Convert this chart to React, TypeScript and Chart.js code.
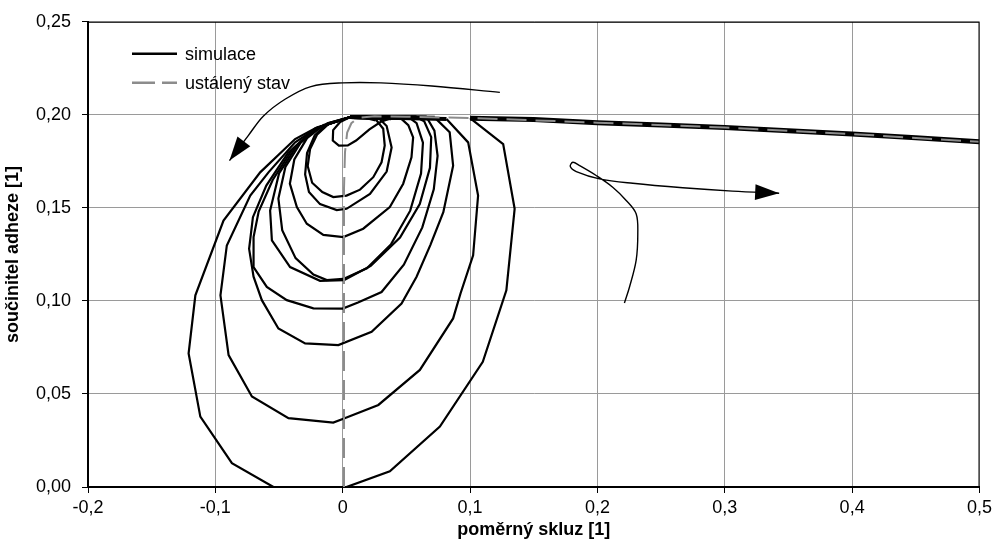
import React, { useEffect, useRef } from "react";
import { Chart, registerables } from "chart.js";

Chart.register(...registerables);

type P = [number, number];

const xTicks = [-0.2, -0.1, 0, 0.1, 0.2, 0.3, 0.4, 0.5];
const yTicks = [0, 0.05, 0.1, 0.15, 0.2, 0.25];

const seriesLabels = ["simulace", "ustálený stav"];
const xTitle = "poměrný skluz [1]";
const yTitle = "součinitel adheze [1]";

// simulation: growing loops around the adhesion maximum
const loop1: P[] = [
  [0.006, 0.1988], [-0.002, 0.1962], [-0.0075, 0.1918], [-0.0078, 0.1862], [-0.003, 0.1835],
  [0.004, 0.1836], [0.0105, 0.1862], [0.021, 0.1922], [0.03, 0.1963], [0.038, 0.1982],
];
const loop2: P[] = [
  [0.006, 0.1988], [-0.01, 0.1958], [-0.02, 0.1895], [-0.0256, 0.1817], [-0.0275, 0.1725],
  [-0.024, 0.1635], [-0.016, 0.1585], [-0.0074, 0.1558], [0.003, 0.1566], [0.0136, 0.1598],
  [0.024, 0.1665], [0.0305, 0.1745], [0.033, 0.1835], [0.0318, 0.1925], [0.026, 0.1975], [0.018, 0.1988],
];
const loop3: P[] = [
  [0.006, 0.1988], [-0.012, 0.1955], [-0.022, 0.189], [-0.028, 0.1795], [-0.0295, 0.168],
  [-0.0265, 0.1585], [-0.0178, 0.152], [-0.0047, 0.1488], [0.003, 0.1495], [0.0214, 0.1575],
  [0.0345, 0.1695], [0.0384, 0.1825], [0.0345, 0.194], [0.028, 0.1984],
];
const loop4: P[] = [
  [0.006, 0.1988], [-0.015, 0.1945], [-0.028, 0.1875], [-0.038, 0.176], [-0.0415, 0.163],
  [-0.036, 0.1504], [-0.0282, 0.1415], [-0.0152, 0.1355], [0.0005, 0.1343], [0.0161, 0.1388],
  [0.037, 0.1504], [0.0475, 0.163], [0.054, 0.1772], [0.0553, 0.1879], [0.0515, 0.1945], [0.045, 0.1985],
];
const loop5: P[] = [
  [0.006, 0.1988], [-0.018, 0.1935], [-0.033, 0.185], [-0.045, 0.172], [-0.0505, 0.155],
  [-0.0475, 0.138], [-0.037, 0.123], [-0.023, 0.1142], [-0.0125, 0.1112], [0.0005, 0.1118],
  [0.019, 0.1175], [0.038, 0.1305], [0.053, 0.1485], [0.0615, 0.1685], [0.063, 0.185],
  [0.058, 0.1955], [0.052, 0.1986],
];
const loop6: P[] = [
  [0.006, 0.1988], [-0.02, 0.193], [-0.036, 0.1835], [-0.05, 0.1685], [-0.057, 0.1486],
  [-0.0556, 0.1325], [-0.0413, 0.1182], [-0.0178, 0.1108], [0.001, 0.1112], [0.022, 0.1188],
  [0.045, 0.134], [0.0605, 0.152], [0.0685, 0.1715], [0.0695, 0.188], [0.064, 0.1965], [0.058, 0.1987],
];
const loop7: P[] = [
  [0.006, 0.1988], [-0.021, 0.1928], [-0.04, 0.181], [-0.055, 0.165], [-0.066, 0.148],
  [-0.07, 0.1343], [-0.07, 0.1182], [-0.0596, 0.1075], [-0.0439, 0.1004], [-0.023, 0.096],
  [0.0, 0.0959], [0.012, 0.0992], [0.0305, 0.1048], [0.048, 0.1195], [0.0625, 0.1395],
  [0.0715, 0.16], [0.0745, 0.178], [0.072, 0.1915], [0.066, 0.1986],
];
const loop8: P[] = [
  [0.006, 0.1988], [-0.022, 0.1925], [-0.043, 0.1795], [-0.06, 0.162], [-0.0705, 0.145],
  [-0.0735, 0.128], [-0.07, 0.113], [-0.0635, 0.1004], [-0.0505, 0.0852], [-0.0295, 0.0772],
  [-0.0034, 0.0763], [0.0227, 0.0834], [0.0462, 0.0986], [0.058, 0.113], [0.0688, 0.13],
  [0.079, 0.1477], [0.0867, 0.1727], [0.084, 0.1906], [0.0723, 0.1985],
];
const loop9: P[] = [
  [0.006, 0.1988], [-0.0204, 0.1928], [-0.0374, 0.1852], [-0.0583, 0.1691], [-0.0726, 0.1566],
  [-0.091, 0.1298], [-0.096, 0.103], [-0.0896, 0.0709], [-0.0713, 0.0486], [-0.0426, 0.037],
  [-0.0074, 0.0346], [0.0, 0.0365], [0.028, 0.0441], [0.0606, 0.0629], [0.0867, 0.0906],
  [0.0925, 0.104], [0.1024, 0.1245], [0.1063, 0.1566], [0.0985, 0.1852], [0.0815, 0.1978],
];
const loop10: P[] = [
  [0.006, 0.1988], [-0.0204, 0.1932], [-0.0374, 0.187], [-0.0648, 0.1691], [-0.0936, 0.1432],
  [-0.1157, 0.103], [-0.121, 0.0718], [-0.1118, 0.0378], [-0.087, 0.0128], [-0.0544, 0],
  [-0.025, -0.012], [0.003, 0], [0.037, 0.0084], [0.0763, 0.0325], [0.11, 0.0673],
  [0.1285, 0.1057], [0.135, 0.1495], [0.126, 0.1843], [0.1, 0.1982],
];
const runaway: P[] = [
  [0.15, 0.1975], [0.2, 0.1958], [0.25, 0.1946], [0.3, 0.1932], [0.35, 0.1915],
  [0.4, 0.1897], [0.45, 0.1877], [0.5, 0.1855],
];

const steadyState: P[] = [
  [0.001, 0], [0.001, 0.16], [0.0018, 0.18], [0.0035, 0.1905], [0.0068, 0.1955],
  [0.012, 0.1984], [0.025, 0.1992], [0.05, 0.199], [0.1, 0.1983], [0.2, 0.1958],
  [0.3, 0.1932], [0.4, 0.1897], [0.5, 0.1855],
];

// annotation arrows (last point = arrow tip)
const arrowLeft: P[] = [
  [0.1234, 0.2121], [0.07, 0.2155], [0.03, 0.2172], [0.0, 0.2172], [-0.025, 0.2152],
  [-0.045, 0.2085], [-0.062, 0.1995], [-0.074, 0.189], [-0.0889, 0.1754],
];
const arrowRight: P[] = [
  [0.2212, 0.0989], [0.2252, 0.1075], [0.2304, 0.1218], [0.2317, 0.1361], [0.2304, 0.1468],
  [0.2226, 0.154], [0.212, 0.1611], [0.199, 0.1674], [0.186, 0.1727], [0.1807, 0.1745],
  [0.1787, 0.1722], [0.1834, 0.1695], [0.2016, 0.1656], [0.2278, 0.1632], [0.267, 0.1608],
  [0.306, 0.159], [0.3427, 0.1579],
];

const simulation: P[] = [
  ...loop1, ...loop2, ...loop3, ...loop4, ...loop5,
  ...loop6, ...loop7, ...loop8, ...loop9, ...loop10, ...runaway,
];

const toXY = (a: P[]) => a.map(([x, y]) => ({ x, y }));
const fmt = (v: number, d: number) => (Math.abs(v) < 1e-9 && d === 1 ? "0" : v.toFixed(d).replace(".", ","));

const FONT = "'Liberation Sans', Arial, sans-serif";

const customPlugin = {
  id: "customDecor",
  afterDatasetsDraw(chart: any) {
    const ctx = chart.ctx;
    const xs = chart.scales.x;
    const ys = chart.scales.y;
    ctx.save();
    ctx.fillStyle = "#000";
    [arrowLeft, arrowRight].forEach((arr) => {
      const [tx, ty] = arr[arr.length - 1];
      const [px, py] = arr[arr.length - 2];
      const TX = xs.getPixelForValue(tx);
      const TY = ys.getPixelForValue(ty);
      const PX = xs.getPixelForValue(px);
      const PY = ys.getPixelForValue(py);
      const ang = Math.atan2(TY - PY, TX - PX);
      const L = 24;
      const W = 8;
      const bx = TX - L * Math.cos(ang);
      const by = TY - L * Math.sin(ang);
      ctx.beginPath();
      ctx.moveTo(TX, TY);
      ctx.lineTo(bx + W * Math.sin(ang), by - W * Math.cos(ang));
      ctx.lineTo(bx - W * Math.sin(ang), by + W * Math.cos(ang));
      ctx.closePath();
      ctx.fill();
    });
    ctx.restore();
  },
  afterDraw(chart: any) {
    const ctx = chart.ctx;
    const a = chart.chartArea;
    ctx.save();
    // frame
    ctx.strokeStyle = "#000";
    ctx.lineWidth = 1;
    ctx.setLineDash([]);
    ctx.strokeRect(a.left + 0.5, a.top + 0.5, a.right - a.left - 1, a.bottom - a.top);
    // legend
    const lx = a.left + 44;
    const rows = [a.top + 32, a.top + 61];
    const ds = chart.data.datasets;
    [1, 0].forEach((di, i) => {
      const d = ds[di];
      ctx.beginPath();
      ctx.strokeStyle = d.borderColor;
      ctx.lineWidth = 2.5;
      ctx.setLineDash(di === 0 ? [23, 7] : []);
      ctx.moveTo(lx, rows[i]);
      ctx.lineTo(lx + 45, rows[i]);
      ctx.stroke();
      ctx.setLineDash([]);
      ctx.fillStyle = "#000";
      ctx.font = `18px ${FONT}`;
      ctx.textBaseline = "middle";
      ctx.textAlign = "left";
      ctx.fillText(d.label, lx + 53, rows[i] + 1);
    });
    ctx.restore();
  },
};

export default function App() {
  const ref = useRef<HTMLCanvasElement | null>(null);

  useEffect(() => {
    if (!ref.current) return;
    Chart.defaults.font.family = FONT;
    Chart.defaults.font.size = 18;
    Chart.defaults.color = "#000";

    const chart = new Chart(ref.current, {
      type: "scatter",
      data: {
        datasets: [
          {
            label: seriesLabels[1],
            data: toXY(steadyState),
            showLine: true,
            borderColor: "#8c8c8c",
            borderWidth: 2,
            borderDash: [20, 9],
            pointRadius: 0,
            tension: 0,
            clip: 0,
          } as any,
          {
            label: seriesLabels[0],
            data: toXY(simulation),
            showLine: true,
            borderColor: "#000",
            borderWidth: 2.2,
            segment: {
              borderWidth: (c: any) => {
                const a = c.p0.parsed;
                const b = c.p1.parsed;
                if (a.y > 0.185 && b.y > 0.185 && a.x >= 0.099 && b.x > a.x) return 5;
                if (a.y > 0.1965 && b.y > 0.1965) return 4;
                return 2.2;
              },
            },
            pointRadius: 0,
            tension: 0,
            clip: 0,
          } as any,
          {
            label: "arrow1",
            data: toXY(arrowLeft),
            showLine: true,
            borderColor: "#000",
            borderWidth: 1.4,
            pointRadius: 0,
            tension: 0.35,
            clip: 0,
          } as any,
          {
            label: "arrow2",
            data: toXY(arrowRight),
            showLine: true,
            borderColor: "#000",
            borderWidth: 1.4,
            pointRadius: 0,
            tension: 0.35,
            clip: 0,
          } as any,
        ],
      },
      options: {
        animation: false,
        responsive: true,
        maintainAspectRatio: false,
        layout: { padding: { left: 0, top: 20, right: 16, bottom: 0 } },
        plugins: { legend: { display: false }, tooltip: { enabled: false } },
        scales: {
          x: {
            type: "linear",
            min: -0.2,
            max: 0.5,
            afterBuildTicks: (s: any) => {
              s.ticks = xTicks.map((v) => ({ value: v }));
            },
            afterFit: (s: any) => {
              s.height = 59;
            },
            ticks: {
              autoSkip: false,
              maxRotation: 0,
              padding: 4,
              callback: (v: any) => fmt(Number(v), 1),
            },
            grid: { color: "#9a9a9a", lineWidth: 1, tickLength: 6, tickColor: "#000", drawTicks: true },
            border: { display: true, color: "#000", width: 2 },
            title: { display: true, text: xTitle, font: { size: 18, weight: "bold" }, padding: { top: 0, bottom: 5 } },
          },
          y: {
            type: "linear",
            min: 0,
            max: 0.25,
            afterBuildTicks: (s: any) => {
              s.ticks = yTicks.map((v) => ({ value: v }));
            },
            afterFit: (s: any) => {
              s.width = 88;
            },
            ticks: {
              autoSkip: false,
              padding: 11,
              callback: (v: any) => fmt(Number(v), 2),
            },
            grid: { color: "#9a9a9a", lineWidth: 1, tickLength: 6, tickColor: "#000", drawTicks: true },
            border: { display: true, color: "#000", width: 2 },
            title: { display: true, text: yTitle, font: { size: 18, weight: "bold" }, padding: { top: 2, bottom: 0 } },
          },
        },
      } as any,
      plugins: [customPlugin],
    });
    return () => chart.destroy();
  }, []);

  return (
    <div style={{ position: "absolute", left: 0, top: 0, width: 996, height: 546, background: "#fff" }}>
      <canvas ref={ref} />
    </div>
  );
}
